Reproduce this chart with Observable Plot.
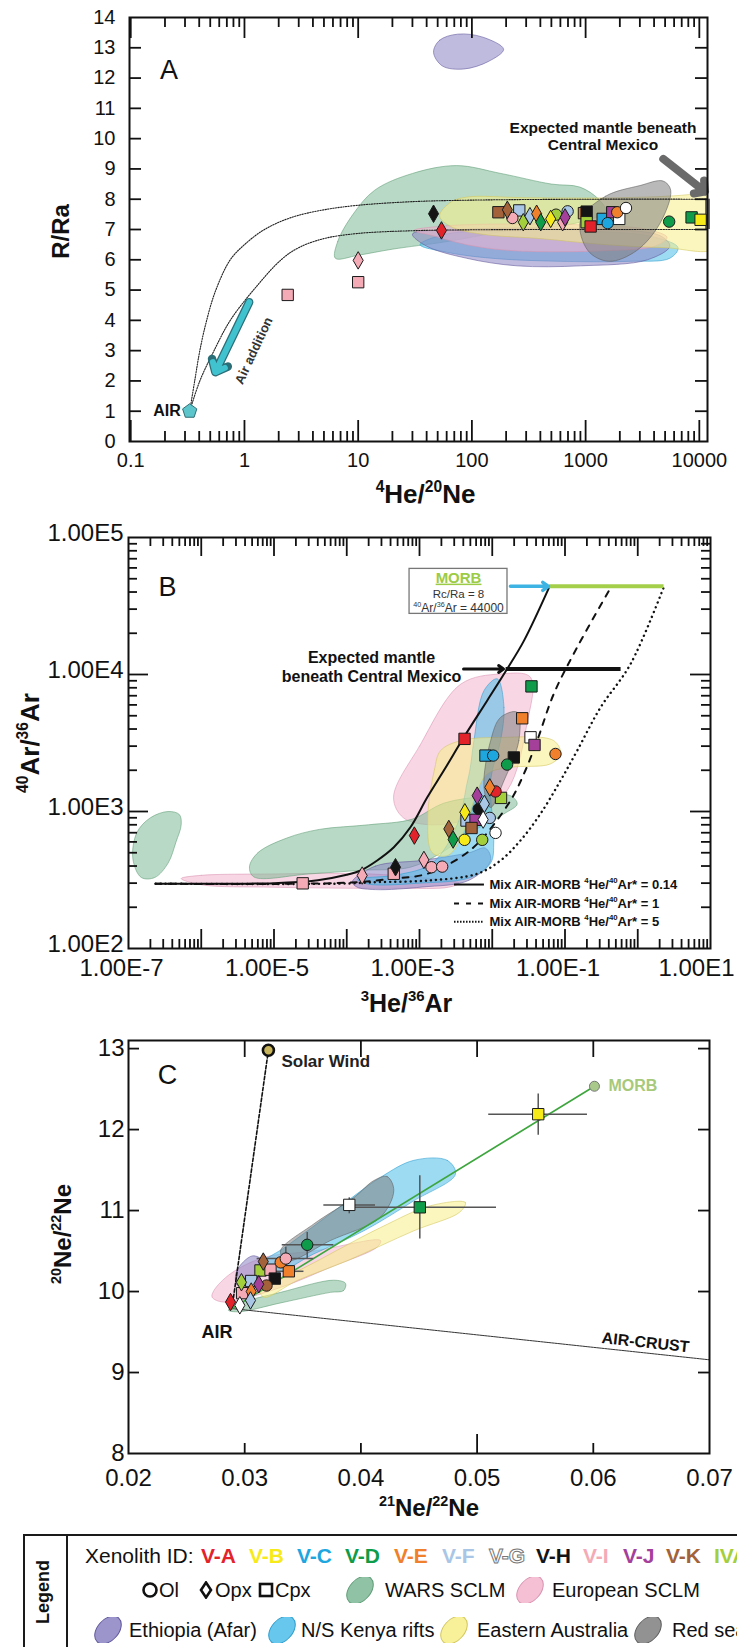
<!DOCTYPE html>
<html lang="en">
<head>
<meta charset="utf-8">
<title>He–Ne–Ar isotope systematics of mantle xenoliths</title>
<script src="https://cdn.jsdelivr.net/npm/d3@7"></script>
<script src="https://cdn.jsdelivr.net/npm/@observablehq/plot@0.6"></script>
<style>
  html, body { margin: 0; padding: 0; background: #fff; }
  body { position: relative; width: 737px; height: 1647px; overflow: hidden;
         font-family: "Liberation Sans", Arial, Helvetica, sans-serif; color: #111; }
  .panel { position: absolute; left: 0; }
  .panel svg { display: block; }
  .lg { position: absolute; white-space: nowrap; line-height: 1; }
</style>
</head>
<body>
<div id="panel-a" class="panel" style="top:0"></div>
<div id="panel-b" class="panel" style="top:500px"></div>
<div id="panel-c" class="panel" style="top:1020px"></div>
<script>
// ---------- sample identities ----------
const xenolithIds = ["V-A", "V-B", "V-C", "V-D", "V-E", "V-F", "V-G", "V-H", "V-I", "V-J", "V-K", "IV"];
const xenolithColors = ["#e3232a", "#f7ea1a", "#1ea6df", "#0f9c4a", "#f0802b", "#a9c6e6", "#ffffff", "#141414", "#f4abb6", "#a5409a", "#a3623a", "#a4cf3c"];
const mineralNames = ["Ol", "Opx", "Cpx"];
const mineralSymbols = ["circle", "diamond", "square"];

// ---------- reference fields (SCLM / rift provinces) ----------
const regionKeys = ["WARS SCLM", "European SCLM", "Ethiopia (Afar)", "N/S Kenya rifts", "Eastern Australia", "Red sea"];
const regionFills = ["#7db995", "#f3b5cd", "#8a83c3", "#4cbde9", "#f7ee88", "#7f7f7f"];
const regionStrokes = ["#5f9c76", "#d993b1", "#5f579b", "#2d9dce", "#d2c65c", "#5e5e5e"];

// ---------- Panel A: R/Ra vs 4He/20Ne ----------
const heNeSamples = [
  [46, 7.52, "V-H", "Opx"], [54, 6.97, "V-A", "Opx"], [171, 7.57, "V-K", "Cpx"], [205, 7.65, "V-K", "Opx"],
  [227, 7.38, "V-I", "Ol"], [261, 7.63, "V-F", "Cpx"], [283, 7.24, "IV", "Opx"], [324, 7.44, "V-F", "Opx"],
  [371, 7.52, "V-E", "Opx"], [403, 7.24, "V-D", "Opx"], [493, 7.35, "V-B", "Opx"], [550, 7.49, "IV", "Ol"],
  [628, 7.24, "V-I", "Opx"], [660, 7.4, "V-J", "Opx"], [695, 7.6, "V-F", "Ol"], [967, 7.54, "V-E", "Cpx"],
  [1021, 7.59, "V-H", "Cpx"], [1021, 7.24, "IV", "Cpx"], [1107, 7.1, "V-A", "Cpx"], [1413, 7.35, "V-C", "Cpx"],
  [1563, 7.21, "V-C", "Ol"], [1715, 7.57, "V-J", "Cpx"], [1897, 7.57, "V-E", "Ol"], [1976, 7.35, "V-G", "Cpx"],
  [2265, 7.71, "V-G", "Ol"], [5430, 7.26, "V-D", "Ol"], [8550, 7.4, "V-D", "Cpx"], [10260, 7.32, "V-B", "Cpx"],
  [10, 5.98, "V-I", "Opx"], [10, 5.26, "V-I", "Cpx"], [2.4, 4.84, "V-I", "Cpx"]
];
const heNeAir = [[0.33, 1]];
const heNeMixUpper = [[0.33, 1], [0.365, 2], [0.405, 3], [0.465, 4], [0.56, 5], [0.75, 6], [1, 6.5], [1.5, 7.0],
  [2.6, 7.4], [5, 7.65], [10, 7.8], [30, 7.92], [100, 7.97], [1000, 8], [11800, 8]];
const heNeMixLower = [[0.33, 1], [0.405, 2], [0.54, 3], [0.75, 4], [1.2, 5], [2.1, 6], [3, 6.4], [5, 6.7],
  [10, 6.87], [30, 6.96], [100, 6.99], [1000, 7], [11800, 7]];
const heNeMantleRange = [7, 8];
const aRegionWars = [[6.3, 6.05], [6.6, 6.6], [9, 7.5], [14, 8.3], [30, 8.85], [73, 9.11], [180, 8.85], [500, 8.5],
  [890, 8.4], [1300, 8.0], [1500, 7.6], [800, 7.2], [200, 6.95], [60, 6.6], [20, 6.35], [10, 6.15]];
const aRegionKenya = [[35, 6.5], [60, 6.85], [200, 6.95], [1000, 6.95], [4000, 6.75], [6500, 6.4], [5500, 6.05],
  [2500, 5.95], [600, 5.95], [150, 6.05], [60, 6.25]];
const aRegionEthiopiaLow = [[30, 6.85], [80, 7.0], [300, 7.05], [1500, 7.0], [4500, 6.8], [5500, 6.45], [3500, 6.0],
  [900, 5.8], [250, 5.8], [90, 6.05], [40, 6.45]];
const aRegionEthiopiaHigh = [[46, 12.85], [52, 13.25], [75, 13.45], [125, 13.35], [190, 12.95], [140, 12.55], [85, 12.3], [55, 12.4]];
const aRegionEuropean = [[31, 6.97], [60, 7.12], [200, 7.18], [1000, 7.15], [3500, 7.0], [5200, 6.74], [4000, 6.45],
  [1500, 6.3], [230, 6.3], [90, 6.5], [45, 6.8]];
const aRegionAustralia = [[52, 7.45], [65, 7.9], [90, 8.07], [300, 8.05], [2000, 8.05], [8000, 8.15], [14000, 8.3],
  [14000, 6.4], [5000, 6.4], [1500, 6.5], [400, 6.7], [120, 6.85], [65, 7.1]];
const aRegionRedSea = [[900, 7.3], [1500, 8.1], [3000, 8.45], [4800, 8.6], [5600, 8.3], [4500, 7.2], [2800, 6.3],
  [1600, 5.95], [1050, 6.3]];
const aXTicks = [0.1, 1, 10, 100, 1000, 10000];
const aYTicks = [0, 1, 2, 3, 4, 5, 6, 7, 8, 9, 10, 11, 12, 13, 14];

// ---------- Panel B: 40Ar/36Ar vs 3He/36Ar ----------
const arHeSamples = [
  [0.0346, 8190, "V-D", "Cpx"], [0.0258, 4790, "V-E", "Cpx"], [0.0336, 3480, "V-G", "Cpx"], [0.0381, 3060, "V-J", "Cpx"],
  [0.074, 2630, "V-E", "Ol"], [0.00416, 3390, "V-A", "Cpx"], [0.00807, 2560, "V-C", "Cpx"], [0.0103, 2560, "V-C", "Ol"],
  [0.0198, 2480, "V-H", "Cpx"], [0.016, 2200, "V-D", "Ol"], [0.00925, 1500, "V-E", "Opx"], [0.0111, 1400, "V-A", "Ol"],
  [0.0062, 1305, "V-J", "Opx"], [0.0132, 1257, "IV", "Cpx"], [0.0078, 1135, "V-F", "Opx"], [0.0065, 1044, "V-H", "Ol"],
  [0.0042, 987, "V-B", "Opx"], [0.00443, 859, "V-F", "Cpx"], [0.00589, 869, "V-J", "Cpx"], [0.0075, 873, "V-G", "Opx"],
  [0.00925, 898, "V-F", "Ol"], [0.00253, 746, "V-K", "Opx"], [0.00519, 758, "V-K", "Cpx"], [0.00085, 667, "V-A", "Opx"],
  [0.0029, 624, "V-D", "Opx"], [0.00416, 621, "V-B", "Ol"], [0.00728, 621, "IV", "Ol"], [0.0111, 698, "V-G", "Ol"],
  [0.00115, 443, "V-I", "Opx"], [0.00146, 392, "V-I", "Ol"], [0.00205, 396, "V-I", "Ol"], [0.000468, 392, "V-H", "Opx"],
  [0.000443, 351, "V-I", "Cpx"], [0.000163, 341, "V-I", "Opx"], [0.0000248, 299, "V-I", "Cpx"]
];
const mixRatio014 = [[2.36e-7, 297], [1e-5, 300], [4e-5, 315], [1e-4, 345], [1.55e-4, 371], [2.62e-4, 439], [4.44e-4, 548],
  [7.5e-4, 767], [1.28e-3, 1270], [2.16e-3, 1990], [4.07e-3, 3480], [8.5e-3, 6440], [0.016, 10970], [0.0272, 17600], [0.0614, 44000]];
const mixRatio1 = [[2.36e-7, 297], [1e-4, 302], [4.44e-4, 324], [1.28e-3, 351], [3.67e-3, 464], [6.9e-3, 614], [0.0178, 1200],
  [0.0272, 1880], [0.0414, 3290], [0.07, 7210], [0.147, 15800], [0.435, 44000]];
const mixRatio5 = [[2.36e-7, 297], [1e-4, 298], [2.62e-4, 305], [1.28e-3, 313], [6.2e-3, 351], [0.013, 439], [0.0244, 614],
  [0.046, 962], [0.0867, 1680], [0.147, 2780], [0.308, 5750], [0.794, 11900], [2.3, 44000]];
const morbAr = [{y: 44000, x1: 0.0614, x2: 2.3}];
const mexicoAr = [{y: 10970, x1: 0.0155, x2: 0.59}];
const bRegionWarsLeft = [[1.15e-7, 450], [1.3e-7, 700], [2e-7, 900], [3.5e-7, 1000], [5e-7, 950], [5.3e-7, 800],
  [4.5e-7, 600], [3.5e-7, 420], [2.3e-7, 330], [1.5e-7, 330]];
const bRegionWars = [[4.6e-6, 394], [6e-6, 500], [1.5e-5, 640], [4.2e-5, 740], [2e-4, 800], [8e-4, 880], [2.15e-3, 1150],
  [8e-3, 1290], [0.0178, 1305], [0.022, 1135], [0.0145, 962], [5e-3, 700], [2e-3, 500], [7.5e-4, 392], [1.55e-4, 372],
  [3e-5, 350], [5.3e-6, 333]];
const bRegionEuropeanLow = [[5.3e-7, 324], [1e-6, 342], [1e-5, 350], [1.5e-4, 352], [1e-3, 330], [3.5e-3, 300],
  [2.5e-3, 280], [5e-4, 275], [1e-5, 280], [1e-6, 292]];
const bRegionEuropeanHigh = [[4.4e-4, 1270], [1e-3, 3000], [3.7e-3, 8510], [0.013, 10090], [0.0336, 9550], [0.03, 4370],
  [0.016, 1420], [5e-3, 900], [1.5e-3, 800], [6e-4, 900]];
const bRegionEthiopia = [[1.19e-4, 306], [2.49e-4, 400], [1.09e-3, 440], [4.8e-3, 500], [8.07e-3, 540], [0.0095, 440],
  [4.8e-3, 315], [1.09e-3, 281], [2.49e-4, 269], [1.38e-4, 281]];
const bRegionKenya = [[0.0117, 9300], [0.0145, 5750], [0.013, 3290], [0.0095, 1700], [0.0105, 614], [0.0095, 420],
  [5e-3, 330], [1e-3, 300], [2e-4, 295], [1.4e-4, 320], [5e-4, 345], [1.5e-3, 420], [3.3e-3, 800], [4.5e-3, 1600],
  [5e-3, 2100], [5.6e-3, 3290], [7.7e-3, 7620]];
const bRegionAustralia = [[1.95e-3, 2780], [3.67e-3, 3290], [0.013, 3470], [0.07, 3290], [0.087, 2630], [0.063, 2225],
  [0.0178, 2100], [8.5e-3, 1880], [5.6e-3, 1200], [4e-3, 700], [2.5e-3, 480], [1.5e-3, 500], [1.3e-3, 900], [1.6e-3, 2000]];
const bRegionRedSea = [[0.022, 5300], [0.0232, 3290], [0.0145, 1680], [9.5e-3, 1070], [7.7e-3, 1500], [9.5e-3, 3290], [0.013, 4860]];
const bXTicks = [1e-7, 1e-5, 1e-3, 1e-1, 1e1];
const bYTicks = [1e2, 1e3, 1e4, 1e5];

// ---------- Panel C: 20Ne/22Ne vs 21Ne/22Ne ----------
const neSamples = [
  [0.05526, 12.19, "V-B", "Cpx"], [0.039, 11.07, "V-G", "Cpx"], [0.04507, 11.04, "V-D", "Cpx"], [0.03538, 10.577, "V-D", "Ol"],
  [0.0331, 10.36, "V-E", "Ol"], [0.03354, 10.407, "V-I", "Ol"], [0.0316, 10.37, "V-K", "Opx"], [0.03136, 10.26, "IV", "Cpx"],
  [0.03222, 10.27, "V-I", "Cpx"], [0.0338, 10.25, "V-E", "Cpx"], [0.03259, 10.16, "V-H", "Cpx"], [0.03056, 10.13, "V-F", "Cpx"],
  [0.02972, 10.115, "IV", "Opx"], [0.03121, 10.09, "V-J", "Opx"], [0.03188, 10.074, "V-K", "Ol"], [0.02978, 9.98, "V-I", "Cpx"],
  [0.03056, 10.0, "V-E", "Opx"], [0.0305, 9.89, "V-F", "Opx"], [0.02878, 9.87, "V-A", "Opx"], [0.02958, 9.83, "V-G", "Opx"]
];
// [x, y, low, high]
const neErrorX = [[0.05526, 12.19, 0.051, 0.0595], [0.039, 11.07, 0.03681, 0.04126], [0.04507, 11.04, 0.03939, 0.05167],
  [0.03538, 10.577, 0.03323, 0.03767], [0.03354, 10.407, 0.03107, 0.03595], [0.0338, 10.25, 0.0325, 0.0351]];
const neErrorY = [[0.05526, 12.19, 11.93, 12.44], [0.039, 11.07, 10.96, 11.157], [0.04507, 11.04, 10.65, 11.43],
  [0.03538, 10.577, 10.4, 10.73], [0.03354, 10.407, 10.28, 10.547], [0.0316, 10.37, 10.28, 10.46]];
const neAir = [0.0289, 9.79];
const neSolarWind = [0.03204, 12.98];
const neMorb = [0.0601, 12.535];
const neCrustEnd = [0.07, 9.157];
const cRegionWars = [[0.03868, 10.1], [0.0385, 10.01], [0.03738, 9.99], [0.0331, 9.86], [0.0295, 9.75], [0.0286, 9.77],
  [0.0297, 9.86], [0.0331, 9.99], [0.03767, 10.14]];
const cRegionEuropean = [[0.04169, 10.63], [0.03595, 10.5], [0.03165, 10.42], [0.02878, 10.22], [0.02734, 10.01], [0.0272, 9.93],
  [0.0282, 9.87], [0.03308, 10.05], [0.03738, 10.3], [0.0414, 10.55]];
const cRegionAustralia = [[0.046, 11.06], [0.049, 11.1], [0.0485, 10.98], [0.04455, 10.75], [0.03882, 10.38], [0.03452, 10.136],
  [0.03165, 9.93], [0.0313, 10.05], [0.0345, 10.25], [0.04169, 10.79]];
const cRegionKenya = [[0.04455, 11.62], [0.04743, 11.62], [0.04814, 11.45], [0.04455, 11.12], [0.04025, 10.75], [0.03595, 10.465],
  [0.0325, 10.22], [0.031, 10.3], [0.0335, 10.55], [0.03738, 10.96], [0.04169, 11.41]];
const cRegionRedSea = [[0.04111, 11.37], [0.04226, 11.42], [0.04283, 11.25], [0.04169, 10.92], [0.03738, 10.63], [0.03366, 10.38],
  [0.03308, 10.5], [0.03595, 10.835], [0.03939, 11.16]];
const cRegionEthiopia = [[0.03065, 10.44], [0.0316, 10.38], [0.0318, 10.25], [0.0305, 10.12], [0.02935, 10.08], [0.0293, 10.25]];
const cXTicks = [0.02, 0.03, 0.04, 0.05, 0.06, 0.07];
const cYTicks = [8, 9, 10, 11, 12, 13];

// ---------- shared helpers ----------
const W = 737;
const FONT = '"Liberation Sans", Arial, Helvetica, sans-serif';
const INK = "#111";
const colorOf = new Map(xenolithIds.map((id, i) => [id, xenolithColors[i]]));
const symbolOf = new Map(mineralNames.map((m, i) => [m, mineralSymbols[i]]));
const radiusOf = new Map([["Ol", 5.7], ["Opx", 5.3], ["Cpx", 6.4]]);
const style = {fontFamily: FONT, background: "transparent", overflow: "visible", color: INK};
const centered = {textAnchor: "middle", lineAnchor: "middle"};

function field(points, key) {
  const i = regionKeys.indexOf(key);
  return Plot.line(points, {
    x: (d) => d[0], y: (d) => d[1], curve: "catmull-rom-closed",
    fill: regionFills[i], fillOpacity: 0.55, stroke: regionStrokes[i], strokeOpacity: 0.7, strokeWidth: 0.8, clip: true
  });
}
function samples(rows) {
  return Plot.dot(rows, {
    x: (d) => d[0], y: (d) => d[1], fill: (d) => colorOf.get(d[2]),
    symbol: (d) => symbolOf.get(d[3]), r: (d) => radiusOf.get(d[3]),
    stroke: "#1b1b1b", strokeWidth: 1
  });
}
function curve(points, opts) {
  return Plot.line(points, {x: (d) => d[0], y: (d) => d[1], curve: "catmull-rom", clip: true, ...opts});
}
function logTicks(lo, hi) {
  const major = [], minor = [];
  for (let e = Math.floor(Math.log10(lo)) - 1; e <= Math.ceil(Math.log10(hi)); e++) {
    const b = +("1e" + e);
    if (b > lo * 1.001 && b < hi * 0.999) major.push(b);
    for (let k = 2; k <= 9; k++) { const v = +(k + "e" + e); if (v > lo && v < hi) minor.push(v); }
  }
  return {major, minor};
}
// inward tick marks on the frame edges
function xTicks(values, len, innerH, where = "both") {
  const s = {x: (d) => d, stroke: INK, strokeWidth: 1.8};
  const out = [];
  if (where !== "top") out.push(Plot.ruleX(values, {...s, insetTop: innerH - len}));
  if (where !== "bottom") out.push(Plot.ruleX(values, {...s, insetBottom: innerH - len}));
  return out;
}
function yTicks(values, len, innerW) {
  const s = {y: (d) => d, stroke: INK, strokeWidth: 1.8};
  return [Plot.ruleY(values, {...s, insetRight: innerW - len}), Plot.ruleY(values, {...s, insetLeft: innerW - len})];
}
const pentagon = {
  draw(context, size) {
    const r = Math.sqrt(size / 2.378);
    for (let i = 0; i < 5; ++i) {
      const a = -Math.PI / 2 + (i * 2 * Math.PI) / 5;
      if (i) context.lineTo(r * Math.cos(a), r * Math.sin(a)); else context.moveTo(r * Math.cos(a), r * Math.sin(a));
    }
    context.closePath();
  }
};
// isotope labels: turn superscript digits into raised, smaller tspans
const SUPERS = "⁰¹²³⁴⁵⁶⁷⁸⁹";
function raiseSuperscripts(svg) {
  const NS = "http://www.w3.org/2000/svg";
  svg.querySelectorAll("text, tspan").forEach((node) => {
    if (node.children.length) return;
    const s = node.textContent;
    if (![...s].some((ch) => SUPERS.includes(ch))) return;
    const runs = [];
    for (const ch of s) {
      const sup = SUPERS.includes(ch);
      const c = sup ? String(SUPERS.indexOf(ch)) : ch;
      if (runs.length && runs[runs.length - 1].sup === sup) runs[runs.length - 1].t += c;
      else runs.push({t: c, sup});
    }
    const size = parseFloat(getComputedStyle(node).fontSize) || 16;
    const lift = +(size * 0.42).toFixed(2);
    node.textContent = "";
    let raised = false;
    for (const {t, sup} of runs) {
      const ts = document.createElementNS(NS, "tspan");
      ts.textContent = t;
      if (sup) { ts.setAttribute("style", "font-size:0.6em"); ts.setAttribute("dy", -lift); raised = true; }
      else if (raised) { ts.setAttribute("dy", lift); raised = false; }
      node.appendChild(ts);
    }
  });
}
function mount(id, svg) {
  document.getElementById(id).append(svg);
  raiseSuperscripts(svg);
}

// ---------- Panel A ----------
{
  const H = 510, mt = 17, mb = 69, ml = 129, mr = 30;
  const innerW = W - ml - mr, innerH = H - mt - mb;
  const xDomain = [0.0975, 11800];
  const lt = logTicks(xDomain[0], xDomain[1]);
  const svg = Plot.plot({
    width: W, height: H, marginTop: mt, marginBottom: mb, marginLeft: ml, marginRight: mr,
    x: {type: "log", domain: xDomain, label: null},
    y: {domain: [0, 14], label: null},
    r: {type: "identity"},
    style,
    marks: [
      field(aRegionWars, "WARS SCLM"),
      field(aRegionKenya, "N/S Kenya rifts"),
      field(aRegionEthiopiaLow, "Ethiopia (Afar)"),
      field(aRegionEthiopiaHigh, "Ethiopia (Afar)"),
      field(aRegionEuropean, "European SCLM"),
      field(aRegionAustralia, "Eastern Australia"),
      field(aRegionRedSea, "Red sea"),
      curve(heNeMixUpper, {stroke: "#222", strokeWidth: 1.1, strokeDasharray: "1.3 1.3"}),
      curve(heNeMixLower, {stroke: "#222", strokeWidth: 1.1, strokeDasharray: "1.3 1.3"}),
      Plot.ruleX([xDomain[1]], {x: (d) => d, y1: heNeMantleRange[0], y2: heNeMantleRange[1], stroke: "#6a6a6a", strokeWidth: 5}),
      Plot.arrow([{x1: 4820, y1: 9.33, x2: 11200, y2: 8.25}], {x1: "x1", y1: "y1", x2: "x2", y2: "y2",
        stroke: "#6a6a6a", strokeWidth: 8, headLength: 2.1, headAngle: 95}),
      Plot.arrow([{x1: 1.1, y1: 4.6, x2: 0.555, y2: 2.29}], {x1: "x1", y1: "y1", x2: "x2", y2: "y2",
        stroke: "#2b6e78", strokeWidth: 8.5, headLength: 2.4, headAngle: 80}),
      Plot.arrow([{x1: 1.1, y1: 4.6, x2: 0.555, y2: 2.29}], {x1: "x1", y1: "y1", x2: "x2", y2: "y2",
        stroke: "#41c2cf", strokeWidth: 6, headLength: 2.6, headAngle: 80}),
      Plot.text(["Air addition"], {x: 1.21, y: 3.0, text: (d) => d, rotate: -65, fontSize: 13, fontWeight: "bold", fill: "#333"}),
      samples(heNeSamples),
      Plot.dot(heNeAir, {x: (d) => d[0], y: (d) => d[1], symbol: pentagon, r: 6.5, fill: "#5cc5cb", stroke: "#2e6f74", strokeWidth: 1}),
      Plot.text(heNeAir, {x: (d) => d[0], y: (d) => d[1], text: () => "AIR", textAnchor: "end", dx: -9, fontSize: 16, fontWeight: "bold"}),
      Plot.text(["Expected mantle beneath\nCentral Mexico"], {x: 1422, y: 10.1, text: (d) => d, fontSize: 15.5,
        fontWeight: "bold", lineHeight: 1.1}),
      Plot.text(["A"], {x: 0.217, y: 12.25, text: (d) => d, fontSize: 27}),
      Plot.frame({stroke: INK, strokeWidth: 2}),
      ...xTicks(lt.major, 21, innerH),
      ...xTicks(lt.minor, 10, innerH),
      ...yTicks(aYTicks.slice(1, -1), 12, innerW),
      Plot.axisX(aXTicks, {tickSize: 0, tickPadding: 11, fontSize: 20, label: null, tickFormat: (d) => String(d)}),
      Plot.axisY(aYTicks, {tickSize: 0, tickPadding: 14, fontSize: 20, label: null, tickFormat: (d) => String(d)}),
      Plot.text(["R/Ra"], {frameAnchor: "left", text: (d) => d, rotate: -90, dx: -68, dy: 2, fontSize: 24, fontWeight: "bold", ...centered}),
      Plot.text(["⁴He/²⁰Ne"], {frameAnchor: "bottom", text: (d) => d, dx: 7, dy: 53, fontSize: 26, fontWeight: "bold", ...centered})
    ]
  });
  mount("panel-a", svg);
}

// ---------- Panel B ----------
{
  const H = 520, mt = 37, mb = 72, ml = 128, mr = 27;
  const innerW = W - ml - mr, innerH = H - mt - mb;
  const xDomain = [1e-7, 1e1], yDomain = [1e2, 1e5];
  const lx = logTicks(xDomain[0], xDomain[1]);
  const ly = logTicks(yDomain[0], yDomain[1]);
  const sci = (d) => d.toExponential(2).toUpperCase().replace("E+", "E");
  const svg = Plot.plot({
    width: W, height: H, marginTop: mt, marginBottom: mb, marginLeft: ml, marginRight: mr,
    x: {type: "log", domain: xDomain, label: null},
    y: {type: "log", domain: yDomain, label: null},
    r: {type: "identity"},
    style,
    marks: [
      field(bRegionWarsLeft, "WARS SCLM"),
      field(bRegionEuropeanLow, "European SCLM"),
      field(bRegionEuropeanHigh, "European SCLM"),
      field(bRegionWars, "WARS SCLM"),
      field(bRegionEthiopia, "Ethiopia (Afar)"),
      field(bRegionKenya, "N/S Kenya rifts"),
      field(bRegionAustralia, "Eastern Australia"),
      field(bRegionRedSea, "Red sea"),
      curve(mixRatio014, {stroke: INK, strokeWidth: 2}),
      curve(mixRatio1, {stroke: INK, strokeWidth: 2, strokeDasharray: "6 7"}),
      curve(mixRatio5, {stroke: INK, strokeWidth: 2.4, strokeDasharray: "0.1 5", strokeLinecap: "round"}),
      Plot.ruleY(morbAr, {y: "y", x1: "x1", x2: "x2", stroke: "#a3cf4b", strokeWidth: 4}),
      Plot.ruleY(mexicoAr, {y: "y", x1: "x1", x2: "x2", stroke: INK, strokeWidth: 4}),
      Plot.arrow([{x1: 0.0178, x2: 0.0593, y: 44000}], {x1: "x1", x2: "x2", y1: "y", y2: "y",
        stroke: "#3cb3e2", strokeWidth: 3.5, headLength: 3, headAngle: 70}),
      Plot.arrow([{x1: 4.03e-3, x2: 0.0143, y: 10970}], {x1: "x1", x2: "x2", y1: "y", y2: "y",
        stroke: INK, strokeWidth: 3, headLength: 3, headAngle: 70}),
      Plot.rect([{x1: 7.3e-4, x2: 0.0162, y1: 27700, y2: 59000}], {x1: "x1", x2: "x2", y1: "y1", y2: "y2",
        fill: "white", stroke: "#777", strokeWidth: 1.3}),
      Plot.text(["MORB"], {x: 3.44e-3, y: 50800, text: (d) => d, fontSize: 15, fontWeight: "bold", fill: "#9ccb45"}),
      Plot.text(["Rc/Ra = 8"], {x: 3.44e-3, y: 38800, text: (d) => d, fontSize: 11.5, fill: "#333"}),
      Plot.text(["⁴⁰Ar/³⁶Ar = 44000"], {x: 3.44e-3, y: 30700, text: (d) => d, fontSize: 12, fill: "#333"}),
      Plot.text(["Expected mantle\nbeneath Central Mexico"], {x: 2.19e-4, y: 11400, text: (d) => d, fontSize: 16,
        fontWeight: "bold", lineHeight: 1.15}),
      samples(arHeSamples),
      Plot.ruleY([293], {y: (d) => d, x1: 3.03e-3, x2: 7.81e-3, stroke: INK, strokeWidth: 2}),
      Plot.ruleY([213], {y: (d) => d, x1: 3.03e-3, x2: 7.81e-3, stroke: INK, strokeWidth: 2, strokeDasharray: "5 7"}),
      Plot.ruleY([157], {y: (d) => d, x1: 3.03e-3, x2: 7.81e-3, stroke: INK, strokeWidth: 2, strokeDasharray: "1.5 1.5"}),
      Plot.text([[293, "0.14"], [213, "1"], [157, "5"]], {x: 9.16e-3, y: (d) => d[0],
        text: (d) => `Mix AIR-MORB ⁴He/⁴⁰Ar* = ${d[1]}`, textAnchor: "start", fontSize: 13, fontWeight: "bold"}),
      Plot.text(["B"], {x: 3.43e-7, y: 43200, text: (d) => d, fontSize: 27}),
      Plot.frame({stroke: INK, strokeWidth: 2}),
      ...xTicks(lx.major, 19, innerH),
      ...xTicks(lx.minor, 9, innerH),
      ...yTicks(ly.major, 20, innerW),
      ...yTicks(ly.minor, 9, innerW),
      Plot.axisX(bXTicks.slice(0, -1), {tickSize: 0, tickPadding: 10, dx: -7, fontSize: 24, label: null, tickFormat: sci}),
      Plot.axisX(bXTicks.slice(-1), {tickSize: 0, tickPadding: 10, dx: -14, fontSize: 24, label: null, tickFormat: sci}),
      Plot.axisY(bYTicks, {tickSize: 0, tickPadding: 5, dy: -4, fontSize: 24, label: null, tickFormat: sci}),
      Plot.text(["⁴⁰Ar/³⁶Ar"], {frameAnchor: "left", text: (d) => d, rotate: -90, dx: -98, dy: 0, fontSize: 26, fontWeight: "bold", ...centered}),
      Plot.text(["³He/³⁶Ar"], {frameAnchor: "bottom", text: (d) => d, dx: -13, dy: 55, fontSize: 25, fontWeight: "bold", ...centered})
    ]
  });
  d3.select(svg).selectAll("text").filter(function () { return this.textContent === "MORB"; })
    .attr("text-decoration", "underline");
  mount("panel-b", svg);
}

// ---------- Panel C ----------
{
  const H = 505, mt = 20, mb = 72, ml = 128, mr = 28;
  const innerW = W - ml - mr, innerH = H - mt - mb;
  const pt = (p) => ({x: p[0], y: p[1]});
  const svg = Plot.plot({
    width: W, height: H, marginTop: mt, marginBottom: mb, marginLeft: ml, marginRight: mr,
    x: {domain: [0.02, 0.07], label: null},
    y: {domain: [8, 13.1], label: null},
    r: {type: "identity"},
    style,
    marks: [
      field(cRegionWars, "WARS SCLM"),
      field(cRegionEuropean, "European SCLM"),
      field(cRegionAustralia, "Eastern Australia"),
      field(cRegionKenya, "N/S Kenya rifts"),
      field(cRegionRedSea, "Red sea"),
      field(cRegionEthiopia, "Ethiopia (Afar)"),
      Plot.line([neAir, neCrustEnd].map(pt), {x: "x", y: "y", stroke: "#333", strokeWidth: 1, strokeDasharray: "2 0.8"}),
      Plot.line([neAir, neSolarWind].map(pt), {x: "x", y: "y", stroke: INK, strokeWidth: 1.6, strokeDasharray: "3.5 2"}),
      Plot.line([neAir, neMorb].map(pt), {x: "x", y: "y", stroke: "#3ea63e", strokeWidth: 1.6}),
      Plot.ruleY(neErrorX, {y: (d) => d[1], x1: (d) => d[2], x2: (d) => d[3], stroke: "#555", strokeWidth: 1.5}),
      Plot.ruleX(neErrorY, {x: (d) => d[0], y1: (d) => d[2], y2: (d) => d[3], stroke: "#555", strokeWidth: 1.5}),
      samples(neSamples),
      Plot.dot([neSolarWind].map(pt), {x: "x", y: "y", r: 5.5, fill: "#c9b65c", stroke: INK, strokeWidth: 2.6}),
      Plot.dot([neMorb].map(pt), {x: "x", y: "y", r: 5, fill: "#a8c98a", stroke: "#777", strokeWidth: 1}),
      Plot.text([neSolarWind].map(pt), {x: "x", y: "y", text: () => "Solar Wind", textAnchor: "start", dx: 13, dy: 11,
        fontSize: 17, fontWeight: "bold", fill: "#222"}),
      Plot.text([neMorb].map(pt), {x: "x", y: "y", text: () => "MORB", textAnchor: "start", dx: 14, dy: 0,
        fontSize: 16, fontWeight: "bold", fill: "#a7c97a"}),
      Plot.text([neAir].map(pt), {x: "x", y: "y", text: () => "AIR", dx: -15, dy: 24, fontSize: 18, fontWeight: "bold"}),
      Plot.text(["AIR-CRUST"], {x: 0.0645, y: 9.37, text: (d) => d, rotate: 6, fontSize: 16, fontWeight: "bold"}),
      Plot.text(["C"], {x: 0.02336, y: 12.67, text: (d) => d, fontSize: 27}),
      Plot.frame({stroke: INK, strokeWidth: 2}),
      ...xTicks([0.03, 0.04, 0.06], 10, innerH, "bottom"),
      ...xTicks([0.05], 19, innerH, "bottom"),
      ...xTicks([0.03, 0.04, 0.05, 0.06], 17, innerH, "top"),
      ...yTicks([9, 10, 11, 12, 13], 11, innerW),
      Plot.axisX(cXTicks, {tickSize: 0, tickPadding: 15, fontSize: 24, label: null, tickFormat: d3.format(".2f")}),
      Plot.axisY(cYTicks, {tickSize: 0, tickPadding: 4, fontSize: 24, label: null, tickFormat: (d) => String(d)}),
      Plot.text(["²⁰Ne/²²Ne"], {frameAnchor: "left", text: (d) => d, rotate: -90, dx: -65, dy: -13, fontSize: 24, fontWeight: "bold", ...centered}),
      Plot.text(["²¹Ne/²²Ne"], {frameAnchor: "bottom", text: (d) => d, dx: 10, dy: 55, fontSize: 24, fontWeight: "bold", ...centered})
    ]
  });
  mount("panel-c", svg);
}

// ---------- Legend ----------
{
  const add = (html, css) => {
    const el = document.createElement("div");
    el.className = "lg";
    el.style.cssText += css;
    el.innerHTML = html;
    document.body.appendChild(el);
    return el;
  };
  add("", "left:23px;top:1534px;width:760px;height:140px;border:2px solid #1a1a1a;box-sizing:border-box;");
  add("", "left:66px;top:1534px;width:0;height:140px;border-left:2px solid #1a1a1a;");
  add("Legend", "left:43px;top:1592px;transform:translate(-50%,-50%) rotate(-90deg);font-size:18px;font-weight:bold;");

  // row 1: xenolith identifiers
  const row1Top = 1545, row1Size = 21;
  add("Xenolith ID:", `left:85px;top:${row1Top}px;font-size:${row1Size}px;`);
  const idLeft = [201, 249, 297, 345, 394, 442, 489, 536, 583, 623, 666, 714];
  xenolithIds.forEach((id, i) => {
    const c = xenolithColors[i];
    const paint = id === "V-G" ? "color:#fff;-webkit-text-stroke:1px #777;" : `color:${c};`;
    add(id === "IV" ? "IVA" : id, `left:${idLeft[i]}px;top:${row1Top}px;font-size:${row1Size}px;font-weight:bold;${paint}`);
  });

  // row 2: mineral symbols
  const sym = (shape) => {
    const body = shape === "circle" ? '<circle cx="9" cy="9" r="6.5"/>'
      : shape === "diamond" ? '<path d="M9 1.5 L14 9 L9 16.5 L4 9 Z"/>'
      : '<rect x="3" y="3" width="12" height="12"/>';
    return `<svg width="18" height="18" style="vertical-align:-2px" fill="none" stroke="#111" stroke-width="2.6">${body}</svg>`;
  };
  const row2Top = 1580, row2Size = 20;
  add(sym("circle") + "Ol", `left:141px;top:${row2Top}px;font-size:${row2Size}px;`);
  add(sym("diamond") + "Opx", `left:197px;top:${row2Top}px;font-size:${row2Size}px;`);
  add(sym("square") + "Cpx", `left:257px;top:${row2Top}px;font-size:${row2Size}px;`);

  // field swatches
  const swatch = (i) => `<svg width="34" height="26" style="vertical-align:-6px"><ellipse cx="17" cy="13" rx="16" ry="10.5"
      transform="rotate(-48 17 13)" fill="${regionFills[i]}" fill-opacity="0.85" stroke="${regionStrokes[i]}" stroke-width="1"/></svg>`;
  const regionSpots = [[343, row2Top, 385], [513, row2Top, 552], [91, 1620, 129], [265, 1620, 301], [437, 1620, 477], [631, 1620, 672]];
  regionKeys.forEach((key, i) => {
    const [sx, top, tx] = regionSpots[i];
    add(swatch(i), `left:${sx}px;top:${top - 3}px;`);
    add(key, `left:${tx}px;top:${top}px;font-size:${row2Size}px;`);
  });
}
</script>
</body>
</html>
